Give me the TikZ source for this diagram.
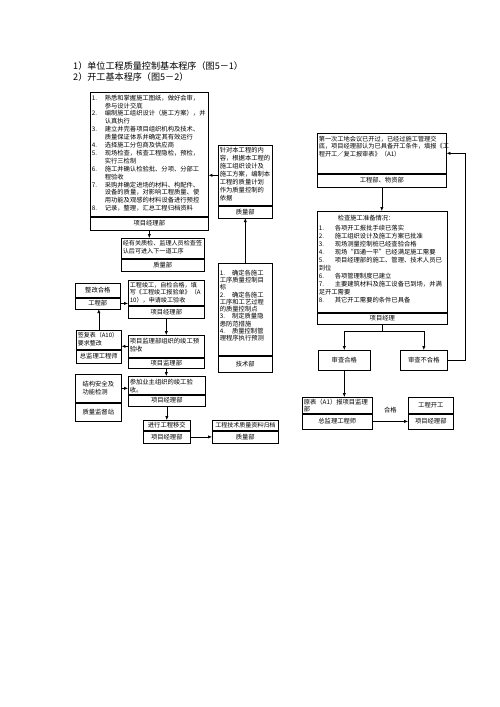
\documentclass[tikz,border=0pt]{standalone}
\usepackage{fontspec}
\setmainfont{Noto Sans CJK SC}
\usetikzlibrary{arrows.meta,calc}
\newcommand\numa[1]{\makebox[13pt][l]{#1}}
\newcommand\numr[1]{\makebox[16pt][l]{#1}}
\newcommand\tb[4]{\begin{minipage}[c][#2pt][t]{#1pt}\raggedright\vspace*{#3pt}#4\end{minipage}}
\begin{document}
\begin{tikzpicture}[x=1pt,y=-1pt,
  box/.style={draw, line width=0.6pt, inner sep=1.5pt, anchor=north west, font=\fontsize{6.3}{7.6}\selectfont},
  arr/.style={-{Latex[length=3.8pt,width=3.2pt]}, line width=0.6pt},
  ln/.style={line width=0.6pt},
  ttl/.style={anchor=west, inner sep=0pt, font=\fontsize{9.1}{10}\selectfont}]
\useasboundingbox (0,0) rectangle (500,707);

% titles
\node[ttl] (t1) at (73,66) {1）单位工程质量控制基本程序（图5－1）};
\node[ttl] (t2) at (73,77) {2）开工基本程序（图5－2）};

% left top box
\node[box, font=\fontsize{6.3}{7.9}\selectfont] (L1) at (90,92) {\tb{115}{121}{1}{%
\numa{1.}熟悉和掌握施工图纸，做好会审，\\
\hspace*{13pt}参与设计交底\\
\numa{2.}编制施工组织设计（施工方案），并\\
\hspace*{13pt}认真执行\\
\numa{3.}建立并完善项目组织机构及技术、\\
\hspace*{13pt}质量保证体系并确定其有效运行\\
\numa{4.}选择施工分包商及供应商\\
\numa{5.}现场检查，核查工程隐检，预检，\\
\hspace*{13pt}实行三检制\\
\numa{6.}施工并确认检验批、分项、分部工\\
\hspace*{13pt}程验收\\
\numa{7.}采购并确定进场的材料、构配件、\\
\hspace*{13pt}设备的质量，对影响工程质量、使\\
\hspace*{13pt}用功能及观感的材料设备进行预控\\
\numa{8.}记录，整理，汇总工程归档资料}};
\node[box, minimum width=118pt, minimum height=13pt] (L1f) at (L1.south west) {项目经理部};

% middle top box
\node[box, font=\fontsize{6.3}{8.0}\selectfont] (M1) at (218,145) {\tb{51}{57}{0.5}{%
针对本工程的内\\容，根据本工程的\\施工组织设计及\\施工方案，编制本\\工程的质量计划\\作为质量控制的\\依据}};
\node[box, minimum width=54pt, minimum height=12pt] (M1f) at (M1.south west) {质量部};

% middle lower box
\node[box, font=\fontsize{6.3}{7.3}\selectfont] (M2) at (218,263) {\tb{51}{89}{5}{%
1.\hspace{7pt}确定各施工\\工序质量控制目\\标\\2.\hspace{7pt}确定各施工\\工序和工艺过程\\的质量控制点\\3.\hspace{7pt}制定质量隐\\患防范措施\\4.\hspace{7pt}质量控制管\\理程序执行预测}};
\node[box, minimum width=54pt, minimum height=16pt] (M2f) at (M2.south west) {技术部};

% left column
\node[box, font=\fontsize{6.1}{7.6}\selectfont] (L2) at (121,238) {\tb{80}{17}{0.5}{经有关质检、监理人员检查签\\认后可进入下一道工序}};
\node[box, minimum width=83pt, minimum height=12pt] (L2f) at (L2.south west) {质量部};

\node[box, font=\fontsize{6.1}{7.5}\selectfont] (L3) at (128,280) {\tb{73}{22}{0.5}{工程竣工，自检合格，填\\写《工程竣工报验单》（A\\10），申请竣工验收}};
\node[box, minimum width=76pt, minimum height=12pt] (L3f) at (L3.south west) {项目经理部};

\node[box, minimum width=45pt, minimum height=14pt] (S1) at (75,283) {整改合格};
\node[box, minimum width=45pt, minimum height=11pt] (S1f) at (S1.south west) {工程部};

\node[box] (L4) at (128,335) {\tb{73}{19}{1.5}{项目监理部组织的竣工预\\验收}};
\node[box, minimum width=76pt, minimum height=10pt] (L4f) at (L4.south west) {项目监理部};

\node[box, font=\fontsize{6.0}{7.6}\selectfont] (S2) at (76,330) {\tb{42}{16}{0.5}{签复表（A10）\\要求整改}};
\node[box, minimum width=45pt, minimum height=13pt] (S2f) at (S2.south west) {总监理工程师};

\node[box] (L5) at (128,376) {\tb{74}{15}{1.5}{参加业主组织的竣工验\\收。}};
\node[box, minimum width=77pt, minimum height=11pt] (L5f) at (L5.south west) {项目经理部};

\node[box, minimum width=46pt, minimum height=28pt, align=left] (S3) at (75,374) {结构安全及\\功能检测};
\node[box, minimum width=46pt, minimum height=18pt] (S3f) at (S3.south west) {质量监督站};

\node[box, minimum width=47pt, minimum height=10pt] (L6) at (143,420) {进行工程移交};
\node[box, minimum width=47pt, minimum height=12pt] (L6f) at (L6.south west) {项目经理部};

\node[box, minimum width=66pt, minimum height=10pt, font=\fontsize{6.0}{7}\selectfont] (L7) at (212,420) {工程技术质量资料归档};
\node[box, minimum width=66pt, minimum height=12pt] (L7f) at (L7.south west) {质量部};

% right column
\node[box, font=\fontsize{6.2}{7.6}\selectfont] (R1) at (317,133) {\tb{126}{37}{1}{第一次工地会议已开过，已经过施工管理交\\底，项目经理部认为已具备开工条件，填报《工\\程开工／复工报审表》（A1）}};
\node[box, minimum width=129pt, minimum height=13pt] (R1f) at (R1.south west) {工程部、物资部};

\node[box, font=\fontsize{6.3}{8.0}\selectfont] (R2) at (317,211) {\tb{127}{98}{2}{%
\hspace*{19pt}检查施工准备情况：\\[2.5pt]
\numr{1.}各项开工报批手续已落实\\
\numr{2.}施工组织设计及施工方案已批准\\
\numr{3.}现场测量控制桩已经查验合格\\
\numr{4.}现场“四通一平”已经满足施工需要\\
\numr{5.}项目经理部的施工、管理、技术人员已\\
到位\\
\numr{6.}各项管理制度已建立\\
\numr{7.}主要建筑材料及施工设备已到场，并满\\
足开工需要\\
\numr{8.}其它开工需要的条件已具备}};
\node[box, minimum width=130pt, minimum height=11pt] (R2f) at (R2.south west) {项目经理};

\node[box, minimum width=52pt, minimum height=20pt] (R3) at (318,350) {审查合格};
\node[box, minimum width=47pt, minimum height=20pt] (R4) at (400,350) {审查不合格};

\node[box, font=\fontsize{6.3}{6.9}\selectfont] (R5) at (302,397) {\tb{67}{13}{0.5}{原表（A1）报项目监理\\部}};
\node[box, minimum width=70pt, minimum height=15pt] (R5f) at (R5.south west) {总监理工程师};

\node[box, minimum width=45pt, minimum height=16pt] (R6) at (408,397) {工程开工};
\node[box, minimum width=45pt, minimum height=15pt] (R6f) at (R6.south west) {项目经理部};

% connectors left
\draw[arr] (L1f.south) -- (L1f.south |- L2.north);
\draw[arr] (M1.west) -- (M1.west -| L1.east);
\draw[arr] (M2.north) -- (M1f.south);
\draw[arr] (S1f.east) -- (S1f.east -| L3.west);
\draw[arr] (S2.north) -- (S2.north |- S1f.south);
\draw[arr] (L3f.south) -- (L3f.south |- L4.north);
\draw[arr] (L4.west) -- (L4.west -| S2.east);
\draw[arr] (L4f.south) -- (L4f.south |- L5.north);
\draw[arr] (S3.east) -- (S3.east -| L5.west);
\draw[arr] (L5f.south) -- (L5f.south |- L6.north);
\draw[arr] (L6f.east) -- (L6f.east -| L7f.west);

% connectors right
\draw[arr] (R1f.south) -- (R1f.south |- R2.north);
\draw[ln] (R2f.south) -- ++(0,7) coordinate (sp);
\draw[arr] (sp) -| (R3.north);
\draw[arr] (sp) -| (R4.north);
\draw[arr] (R4.east) -- ++(18,0) |- (R1.east);
\draw[arr] (R3.south) -- (R3.south |- R5.north);
\draw[arr] (R5f.east) -- node[above=8pt, inner sep=0pt, font=\fontsize{6.3}{7}\selectfont] (ok) {合格} (R5f.east -| R6f.west);
\end{tikzpicture}
\end{document}
